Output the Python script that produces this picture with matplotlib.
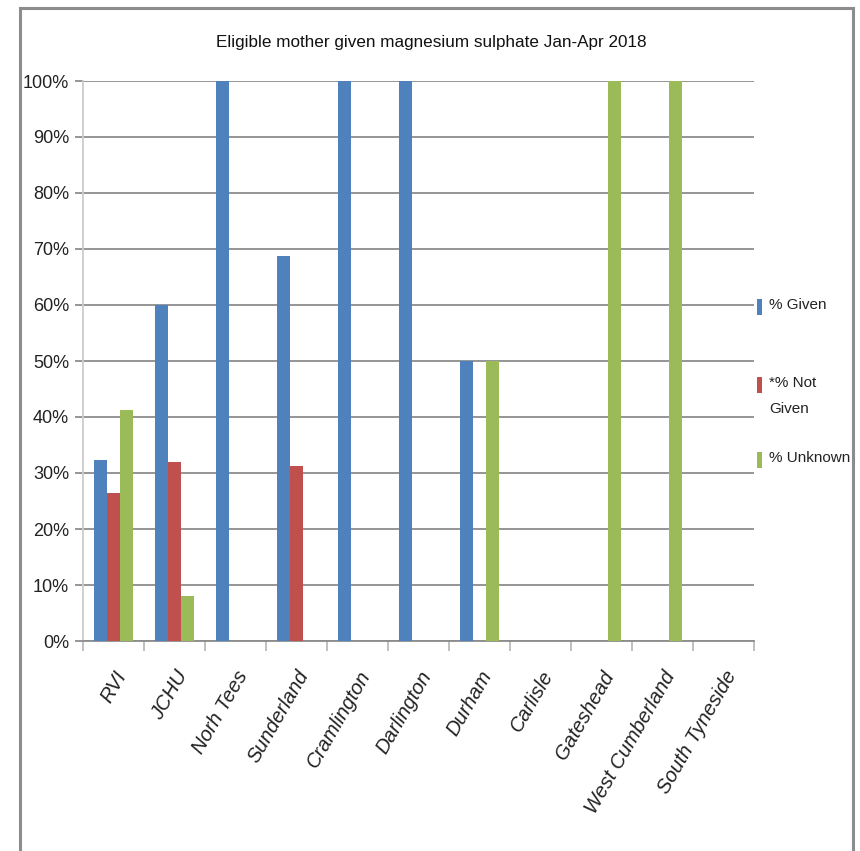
import matplotlib
matplotlib.use("Agg")
import matplotlib.pyplot as plt
import numpy as np
from matplotlib.patches import Rectangle
from matplotlib.ticker import FixedLocator, PercentFormatter

categories = ["RVI", "JCHU", "Norh Tees", "Sunderland", "Cramlington", "Darlington",
              "Durham", "Carlisle", "Gateshead", "West Cumberland", "South Tyneside"]
given = [32.4, 60.0, 100.0, 68.75, 100.0, 100.0, 50.0, 0, 0, 0, 0]
not_given = [26.5, 32.0, 0, 31.25, 0, 0, 0, 0, 0, 0, 0]
unknown = [41.2, 8.0, 0, 0, 0, 0, 50.0, 0, 100.0, 100.0, 0]
series_labels = ["% Given", "*% Not\nGiven", "% Unknown"]
colors = ["#4F81BD", "#C0504D", "#9BBB59"]
title = "Eligible mother given magnesium sulphate Jan-Apr 2018"

FONT = ["Liberation Sans", "DejaVu Sans"]
plt.rcParams["font.family"] = FONT

W, H = 860, 851
fig = plt.figure(figsize=(W/100, H/100), dpi=100)
ax = fig.add_axes([83/W, 1-641/H, (754-83)/W, (641-81)/H])

x = np.arange(len(categories))
w = 0.215
for i, (vals, lab, c) in enumerate(zip([given, not_given, unknown], series_labels, colors)):
    ax.bar(x + (i-1)*w, vals, width=w, color=c, label=lab, zorder=3)

ax.set_xlim(-0.5, len(categories)-0.5)
ax.set_ylim(0, 100)
ax.yaxis.set_major_locator(FixedLocator(np.arange(0, 101, 10)))
ax.yaxis.set_major_formatter(PercentFormatter(decimals=0))
ax.grid(axis="y", color="#8c8c8c", linewidth=1.3, zorder=0)
ax.set_axisbelow(True)

ax.set_xticks(x)
ax.set_xticklabels(categories, rotation=60, ha="right", rotation_mode="anchor",
                   fontsize=14.5, color="#222222")
for t in ax.get_xticklabels():
    t.set_fontstyle("italic")
ax.tick_params(axis="x", which="major", length=0, pad=19)
ax.set_xticks(np.arange(-0.5, len(categories)), minor=True)
ax.tick_params(axis="x", which="minor", length=7, color="#bbbbbb", width=1.3)
ax.tick_params(axis="y", length=6, color="#8c8c8c", width=1.3, labelsize=13,
               labelcolor="#222222", pad=4)

for s in ["top", "right"]:
    ax.spines[s].set_visible(False)
ax.spines["left"].set_color("#cccccc")
ax.spines["left"].set_linewidth(1.3)
ax.spines["bottom"].set_color("#8c8c8c")
ax.spines["bottom"].set_linewidth(1.3)

fig.text(0.502, 1-42/H, title, ha="center", va="center", fontsize=12.3, color="#111111")

# legend entries (Excel-style: entries on a fixed pitch, wrapped label)
leg_y = [307, 385, 460]
for lab, c, yy in zip(series_labels, colors, leg_y):
    fig.add_artist(Rectangle((757/W, 1-(yy+8)/H), 5/W, 16/H, transform=fig.transFigure,
                             facecolor=c, edgecolor="none"))
    fig.text(769/W, 1-(yy-9)/H, lab, ha="left", va="top", fontsize=11,
             color="#222222", linespacing=2.05)

# outer chart border
fig.add_artist(Rectangle((20/W, -0.01), (853-20)/W, 1-8/H+0.01,
                         transform=fig.transFigure, fill=False,
                         edgecolor="#8c8c8c", linewidth=2.2))

fig.savefig("out.png", dpi=100, facecolor="white")
